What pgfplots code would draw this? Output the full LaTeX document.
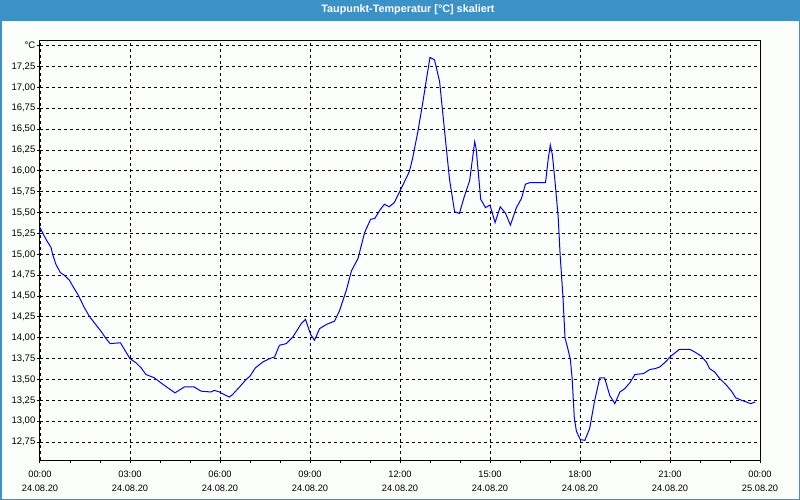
\documentclass[border=0pt]{standalone}
\usepackage{fontspec}
\setmainfont{Liberation Sans}
\usepackage{pgfplots}
\pgfplotsset{compat=1.18}
\definecolor{barblue}{RGB}{60,145,199}
\definecolor{bgwhite}{RGB}{252,254,252}
\begin{document}
\begin{tikzpicture}
\fill[bgwhite] (0,0) rectangle (800bp,500bp);
\fill[barblue] (0,479.3bp) rectangle (800bp,500bp);
\draw[barblue, line width=1.5bp] (0.75bp,0.75bp) rectangle (799.25bp,499.25bp);
\node[text=white, font=\fontsize{10.8bp}{12bp}\selectfont\bfseries] at (408bp,490bp) {Taupunkt-Temperatur [°C] skaliert};
\begin{axis}[
    at={(40bp,40bp)}, anchor=south west,
    width=720bp, height=419.3bp, scale only axis,
    xmin=0, xmax=24, ymin=12.535, ymax=17.56,
    axis line style={black, line width=1bp},
    xtick={0,3,...,24},
    xticklabels={00:00\\24.08.20, 03:00\\24.08.20, 06:00\\24.08.20, 09:00\\24.08.20,
                 12:00\\24.08.20, 15:00\\24.08.20, 18:00\\24.08.20, 21:00\\24.08.20,
                 00:00\\25.08.20},
    minor x tick num=2,
    ytick={12.75,13,13.25,13.5,13.75,14,14.25,14.5,14.75,15,15.25,15.5,15.75,16,16.25,16.5,16.75,17,17.25,17.5},
    yticklabels={{12,75},{13,00},{13,25},{13,50},{13,75},{14,00},{14,25},{14,50},{14,75},{15,00},
                 {15,25},{15,50},{15,75},{16,00},{16,25},{16,50},{16,75},{17,00},{17,25},{°C}},
    xtick pos=bottom, ytick pos=left,
    tick align=outside,
    major tick length=3bp, minor tick length=3bp,
    tick style={black, line width=1bp},
    xticklabel style={font=\fontsize{9.3bp}{14.6bp}\selectfont, align=center, anchor=north, inner sep=0pt, yshift=-7.5bp},
    yticklabel style={font=\fontsize{9.5bp}{11bp}\selectfont, anchor=east, inner sep=0pt, xshift=-1.5bp},
    grid=major,
    major grid style={black, line width=0.8bp, dash pattern=on 3bp off 3bp},
]
\addplot[blue, line width=1bp, mark=none, sharp plot] coordinates {
(0.00,15.32) (0.20,15.18) (0.37,15.08) (0.42,15.00) (0.53,14.88) (0.68,14.78)
(0.81,14.75) (0.98,14.69) (1.09,14.62) (1.26,14.52) (1.48,14.36) (1.64,14.26)
(1.81,14.18) (2.03,14.08) (2.20,13.99) (2.34,13.93) (2.68,13.94) (2.83,13.85)
(3.00,13.75) (3.20,13.70) (3.37,13.64) (3.53,13.56) (3.81,13.52) (4.03,13.46)
(4.26,13.40) (4.50,13.34) (4.81,13.41) (5.14,13.41) (5.37,13.36) (5.70,13.35)
(5.81,13.37) (5.98,13.35) (6.14,13.32) (6.31,13.29) (6.42,13.32) (6.65,13.41)
(6.87,13.50) (7.00,13.54) (7.18,13.64) (7.43,13.71) (7.65,13.75) (7.82,13.77)
(7.98,13.91) (8.21,13.93) (8.43,14.01) (8.71,14.17) (8.85,14.22) (9.02,14.04)
(9.15,13.97) (9.32,14.11) (9.55,14.16) (9.82,14.20) (9.99,14.33) (10.22,14.58)
(10.38,14.80) (10.60,14.95) (10.82,15.26) (11.02,15.42) (11.16,15.43) (11.33,15.53)
(11.48,15.60) (11.64,15.57) (11.81,15.62) (12.00,15.76) (12.31,15.99) (12.42,16.15)
(12.59,16.46) (12.76,16.82) (12.90,17.14) (13.00,17.36) (13.15,17.33) (13.32,17.07)
(13.48,16.50) (13.65,15.90) (13.82,15.51) (13.98,15.49) (14.15,15.70) (14.32,15.88)
(14.49,16.35) (14.54,16.26) (14.69,15.66) (14.85,15.56) (15.00,15.59) (15.17,15.38)
(15.34,15.57) (15.52,15.49) (15.68,15.35) (15.88,15.56) (16.05,15.67) (16.18,15.84)
(16.33,15.86) (16.85,15.86) (16.94,16.14) (17.01,16.31) (17.08,16.19) (17.16,15.90)
(17.27,15.46) (17.34,14.98) (17.43,14.50) (17.50,14.00) (17.60,13.86) (17.68,13.74)
(17.74,13.50) (17.81,13.04) (17.88,12.88) (18.01,12.78) (18.16,12.77) (18.32,12.91)
(18.49,13.25) (18.66,13.52) (18.82,13.52) (18.99,13.31) (19.16,13.21) (19.33,13.35)
(19.49,13.39) (19.66,13.46) (19.83,13.56) (20.11,13.57) (20.33,13.62) (20.50,13.63)
(20.66,13.65) (20.85,13.71) (21.03,13.78) (21.31,13.86) (21.67,13.86) (21.87,13.82)
(22.04,13.78) (22.21,13.71) (22.32,13.63) (22.49,13.59) (22.66,13.51) (22.86,13.44)
(23.05,13.36) (23.19,13.28) (23.39,13.25) (23.55,13.23) (23.69,13.21) (23.83,13.23)
};
\end{axis}
\end{tikzpicture}
\end{document}
